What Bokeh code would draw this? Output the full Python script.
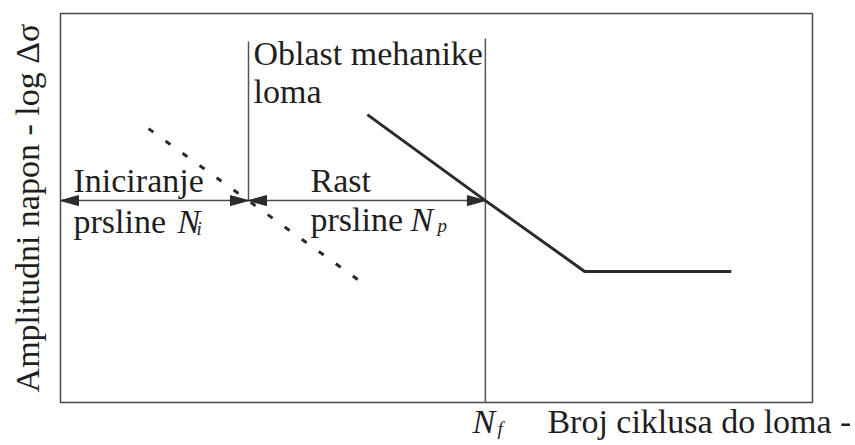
import math
from bokeh.plotting import figure
from bokeh.models import Label, Range1d
from bokeh.embed import file_html
from bokeh.resources import INLINE

# ---- data (log N on x, log delta-sigma on y, arbitrary units) ----
basquin_x = [4.08, 5.65, 6.97, 8.92]      # solid S-N line with endurance limit
basquin_y = [7.40, 5.19, 3.37, 3.37]
initiation_x = [1.17, 4.06]               # dotted crack initiation line
initiation_y = [7.04, 3.01]
N_i = 2.50                                # end of crack initiation
N_f = 5.65                                # fatigue life
arrow_y = 5.19
top_ni = 9.28
top_nf = 9.36
x_lo, x_hi = 0.0, 10.0
y_lo, y_hi = 0.0, 10.0

# ---- layout (pixels) ----
W, H = 850, 444
BOX_L, BOX_R, BOX_T, BOX_B = 60, 812, 13, 402
ppx = (BOX_R - BOX_L) / (x_hi - x_lo)
ppy = (BOX_B - BOX_T) / (y_hi - y_lo)
BASE_FIX = 12   # renderer draws label baselines lower than anchor; compensate (px)

FONT = "Times New Roman"
TXT = "#1f1f1f"

p = figure(width=W, height=H, output_backend="svg", toolbar_location=None,
           x_range=Range1d(x_lo - BOX_L / ppx, x_hi + (W - BOX_R) / ppx),
           y_range=Range1d(y_lo - (H - BOX_B) / ppy, y_hi + BOX_T / ppy),
           x_axis_location=None, y_axis_location=None,
           min_border=0)
p.title = None
p.grid.visible = False
p.outline_line_color = None
p.background_fill_color = "white"
p.border_fill_color = "white"

# plot box
p.quad(left=[x_lo], right=[x_hi], bottom=[y_lo], top=[y_hi],
       fill_color=None, line_color="#4a4a4a", line_width=1.5)

# vertical markers
p.segment(x0=[N_i, N_f], y0=[arrow_y, y_lo], x1=[N_i, N_f], y1=[top_ni, top_nf],
          line_color="#555555", line_width=1.5)

# curves
p.line(initiation_x, initiation_y, line_color="#2b2b2b", line_width=3, line_dash="6 15")
p.line(basquin_x, basquin_y, line_color="#2b2b2b", line_width=3)

# arrow shafts
p.segment(x0=[x_lo, N_i], y0=[arrow_y, arrow_y], x1=[N_i, N_f], y1=[arrow_y, arrow_y],
          line_color="#4a4a4a", line_width=1.5)

# arrow heads (filled triangles), sizes in pixels
L, HW = 18 / ppx, 5 / ppy
tips = [(x_lo, 1), (N_i, -1), (N_i, 1), (N_f, -1)]
xs, ys = [], []
for tx, d in tips:
    xs.append([tx, tx + d * L, tx + d * L])
    ys.append([arrow_y, arrow_y + HW, arrow_y - HW])
p.patches(xs, ys, fill_color="#2b2b2b", line_color="#2b2b2b", line_width=1)


def lab(text, x, y, dx, dy, size=34, style="normal", **kw):
    # dx, dy: pixel offsets (dy positive = up) from a data anchor
    p.add_layout(Label(x=x + dx / ppx, y=y + (dy + BASE_FIX) / ppy, text=text,
                       text_font=FONT, text_font_size=f"{size}px",
                       text_font_style=style, text_color=TXT,
                       text_baseline="alphabetic", text_align="left", **kw))


# Initiation
lab("Iniciranje", x_lo, arrow_y, 13, 8)
lab("prsline", x_lo, arrow_y, 13, -33)
lab("N", x_lo, arrow_y, 117, -33, style="italic")
lab("i", x_lo, arrow_y, 136, -40, size=19, style="italic")

# Propagation
lab("Rast", N_i, arrow_y, 62, 8)
lab("prsline", N_i, arrow_y, 62, -31)
lab("N", N_i, arrow_y, 162, -31, style="italic")
lab("p", N_i, arrow_y, 189, -37, size=19, style="italic")

# fracture mechanics region
lab("Oblast mehanike", N_i, top_ni, 5, -24)
lab("loma", N_i, top_ni, 5, -62)

# x axis annotation
lab("N", N_f, y_lo, -13, -31, style="italic")
lab("f", N_f, y_lo, 12, -38, size=19, style="italic")
lab("Broj ciklusa do loma -", N_f, y_lo, 62, -31)

# y axis title
p.add_layout(Label(x=x_lo - 33 / ppx, y=(y_lo + y_hi) / 2, text="Amplitudni napon - log Δσ",
                   angle=math.pi / 2, text_align="center", text_baseline="middle",
                   text_font=FONT, text_font_size="34px", text_color=TXT))

open("out.html", "w").write(file_html(p, INLINE))
